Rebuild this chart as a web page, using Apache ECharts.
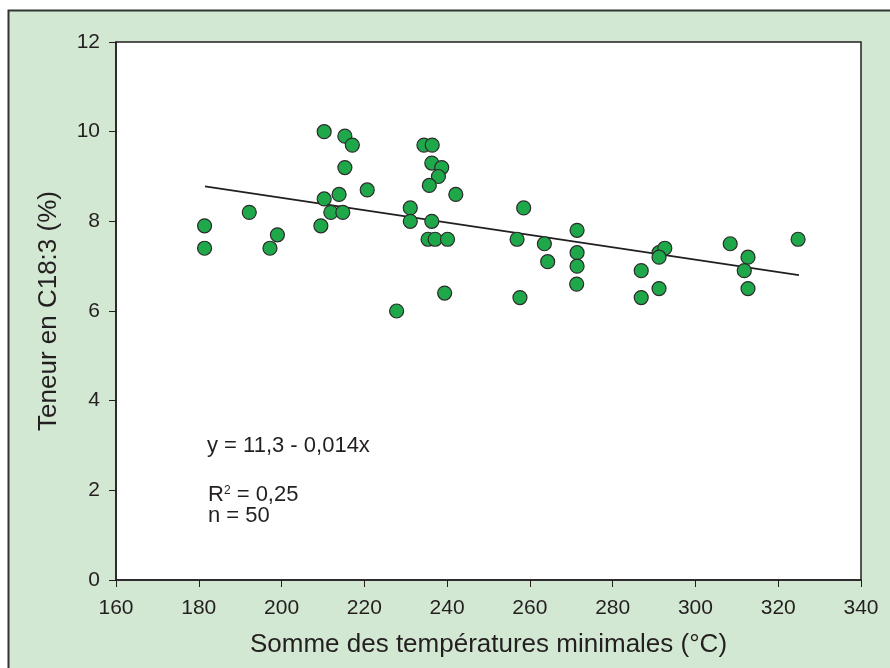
<!DOCTYPE html>
<html>
<head>
<meta charset="utf-8">
<script src="https://cdn.jsdelivr.net/npm/echarts@6/dist/echarts.min.js"></script>
<style>
  html, body { margin: 0; padding: 0; background: #ffffff; }
  #main { width: 890px; height: 668px; }
</style>
</head>
<body>
<div id="main"></div>
<script>
// Somme des températures minimales (°C) / teneur en C18:3 (%)
const sommeTemp = [
  210.3, 215.3, 217.1, 215.3, 220.7, 213.9, 210.3, 192.2, 211.9, 214.8,
  181.4, 209.5, 199.0, 181.4, 197.2, 227.8, 231.1, 231.1,
  234.4, 236.4, 236.3, 238.7, 237.9, 235.7, 242.1, 236.3, 235.4, 237.1,
  240.1, 239.4, 258.5, 256.9, 263.5, 264.3, 257.6, 271.4, 271.4, 271.4,
  271.3, 286.9, 286.9,
  291.2, 292.6, 291.2, 291.2, 308.4, 312.7, 311.8, 312.7, 324.8
];
const teneur = [
  10.0, 9.9, 9.7, 9.2, 8.7, 8.6, 8.5, 8.2, 8.2, 8.2,
  7.9, 7.9, 7.7, 7.4, 7.4, 6.0, 8.3, 8.0,
  9.7, 9.7, 9.3, 9.2, 9.0, 8.8, 8.6, 8.0, 7.6, 7.6,
  7.6, 6.4, 8.3, 7.6, 7.5, 7.1, 6.3, 7.8, 7.3, 7.0,
  6.6, 6.9, 6.3,
  7.3, 7.4, 7.2, 6.5, 7.5, 7.2, 6.9, 6.5, 7.6
];
// droite de régression
const droiteX = [181.5, 325];
const droiteY = [8.78, 6.8];

const police = 'Liberation Sans, Arial, Helvetica, sans-serif';
const encre = '#231f20';

let chartDom = document.getElementById('main');
let myChart = echarts.init(chartDom);

const points = sommeTemp.map((x, i) => [x, teneur[i]]);
const droite = droiteX.map((x, i) => [x, droiteY[i]]);

const option = {
  animation: false,
  graphic: [
    {
      type: 'rect',
      z: -10,
      shape: { x: 8.5, y: 10.5, width: 900, height: 700 },
      style: { fill: '#d3e8d2', stroke: '#333333', lineWidth: 2 }
    },
    {
      type: 'text',
      left: 207,
      top: 435,
      style: { text: 'y = 11,3 - 0,014x', font: '22px ' + police, fill: encre }
    },
    {
      type: 'text',
      left: 208,
      top: 484,
      style: {
        text: '{a|R}{s|2}{a| = 0,25}\n{a|n = 50}',
        fill: encre,
        rich: {
          a: { fontSize: 22, fontFamily: police, lineHeight: 21, fill: encre },
          s: { fontSize: 12, fontFamily: police, verticalAlign: 'top', lineHeight: 21, fill: encre, padding: [0, 0, 10, 0] }
        }
      }
    }
  ],
  grid: {
    left: 116,
    top: 42,
    right: 29,
    bottom: 88,
    show: true,
    backgroundColor: '#ffffff',
    borderColor: encre,
    borderWidth: 1.5
  },
  xAxis: {
    type: 'value',
    min: 160,
    max: 340,
    interval: 20,
    name: 'Somme des températures minimales (°C)',
    nameLocation: 'middle',
    nameGap: 52,
    nameTextStyle: { fontSize: 26, fontFamily: police, color: encre },
    axisLine: { lineStyle: { color: encre, width: 1.5 } },
    axisTick: { show: true, length: 7, lineStyle: { color: encre } },
    axisLabel: { fontSize: 21, fontFamily: police, color: encre, margin: 18 },
    splitLine: { show: false }
  },
  yAxis: {
    type: 'value',
    min: 0,
    max: 12,
    interval: 2,
    name: 'Teneur en C18:3 (%)',
    nameLocation: 'middle',
    nameGap: 54,
    nameTextStyle: { fontSize: 26, fontFamily: police, color: encre },
    axisLine: { show: true, lineStyle: { color: encre, width: 1.5 } },
    axisTick: { show: true, length: 7, lineStyle: { color: encre } },
    axisLabel: { fontSize: 21, fontFamily: police, color: encre, margin: 16 },
    splitLine: { show: false }
  },
  series: [
    {
      type: 'line',
      data: droite,
      symbol: 'none',
      lineStyle: { color: encre, width: 1.6 },
      z: 1
    },
    {
      type: 'scatter',
      data: points,
      symbol: 'circle',
      symbolSize: 14,
      itemStyle: { color: '#1fa84a', opacity: 1, borderColor: '#2b2b2b', borderWidth: 1.2 },
      z: 2
    }
  ]
};
myChart.setOption(option);
</script>
</body>
</html>
